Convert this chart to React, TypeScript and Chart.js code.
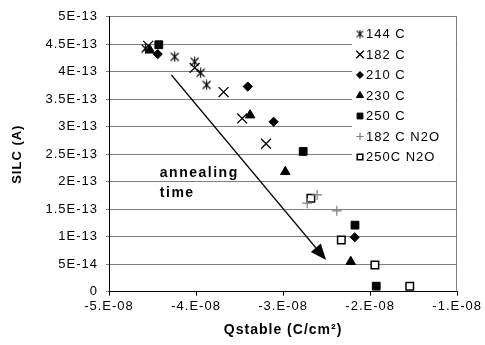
import React, { useEffect, useRef } from 'react';
import { Chart, registerables } from 'chart.js';
import { drawPoint } from 'chart.js/helpers';

Chart.register(...registerables);

// ---------------- data ----------------
const seriesLabels = ['144 C', '182 C', '210 C', '230 C', '250 C', '182 C N2O', '250C N2O'];

const q144 = [-4.58e-8, -4.245e-8, -4.016e-8, -3.947e-8, -3.879e-8];
const silc144 = [4.42e-13, 4.27e-13, 4.18e-13, 3.98e-13, 3.76e-13];

const q182 = [-4.55e-8, -4.016e-8, -3.684e-8, -3.47e-8, -3.196e-8];
const silc182 = [4.47e-13, 4.07e-13, 3.63e-13, 3.15e-13, 2.69e-13];

const q210 = [-4.44e-8, -3.406e-8, -3.109e-8, -2.177e-8];
const silc210 = [4.32e-13, 3.73e-13, 3.09e-13, 0.99e-13];

const q230 = [-4.53e-8, -3.379e-8, -2.975e-8, -2.223e-8];
const silc230 = [4.39e-13, 3.21e-13, 2.18e-13, 0.545e-13];

const q250 = [-4.428e-8, -2.769e-8, -2.174e-8, -1.93e-8];
const silc250 = [4.49e-13, 2.55e-13, 1.21e-13, 0.1e-13];

const q182N2O = [-2.723e-8, -2.609e-8, -2.383e-8];
const silc182N2O = [1.61e-13, 1.76e-13, 1.47e-13];

const q250N2O = [-2.681e-8, -2.331e-8, -1.945e-8, -1.545e-8];
const silc250N2O = [1.7e-13, 0.94e-13, 0.485e-13, 0.1e-13];

const xTickValues = [-5e-8, -4e-8, -3e-8, -2e-8, -1e-8];
const xTickLabels = ['-5.E-08', '-4.E-08', '-3.E-08', '-2.E-08', '-1.E-08'];
const yTickValues = [0, 5e-14, 1e-13, 1.5e-13, 2e-13, 2.5e-13, 3e-13, 3.5e-13, 4e-13, 4.5e-13, 5e-13];
const yTickLabels = ['0', '5E-14', '1E-13', '1.5E-13', '2E-13', '2.5E-13', '3E-13', '3.5E-13', '4E-13', '4.5E-13', '5E-13'];

// annotation (data coordinates)
const arrowStart = [-4.283e-8, 3.94e-13];
const arrowEnd = [-2.506e-8, 0.576e-13];
const noteLines = ['annealing', 'time'];
const noteX = -4.416e-8;
const noteY = [2.085e-13, 1.72e-13];

const FONT = 'Liberation Sans, Arial, sans-serif';

function makeAsterisk(size: number, lw: number) {
  const c = document.createElement('canvas');
  c.width = size;
  c.height = size;
  const g = c.getContext('2d')!;
  g.strokeStyle = '#000';
  g.lineWidth = lw;
  const m = size / 2;
  const r = size / 2 - 0.5;
  const d = r * 0.8;
  g.beginPath();
  g.moveTo(m, m - r);
  g.lineTo(m, m + r);
  g.moveTo(m - d, m - d);
  g.lineTo(m + d, m + d);
  g.moveTo(m + d, m - d);
  g.lineTo(m - d, m + d);
  g.stroke();
  return c;
}

function pts(xs: number[], ys: number[]) {
  return xs.map((x, i) => ({ x, y: ys[i] }));
}

export default function App() {
  const ref = useRef<HTMLCanvasElement>(null);

  useEffect(() => {
    const star = makeAsterisk(11, 1.1);
    const starSmall = makeAsterisk(9, 1.1);

    const spacingPlugin = {
      id: 'spacing',
      beforeUpdate(chart: any) {
        chart.ctx.letterSpacing = '1px';
      },
      beforeDraw(chart: any) {
        chart.ctx.letterSpacing = '1px';
      },
    };

    const extrasPlugin = {
      id: 'extras',
      afterDraw(chart: any) {
        const ctx = chart.ctx as CanvasRenderingContext2D;
        const xs = chart.scales.x;
        const ys = chart.scales.y;
        const ca = chart.chartArea;
        ctx.save();
        // right border of plot area
        ctx.strokeStyle = '#808080';
        ctx.lineWidth = 1;
        ctx.beginPath();
        ctx.moveTo(Math.round(ca.right) - 0.5, ca.top);
        ctx.lineTo(Math.round(ca.right) - 0.5, ca.bottom);
        ctx.stroke();

        // arrow
        const x1 = xs.getPixelForValue(arrowStart[0]);
        const y1 = ys.getPixelForValue(arrowStart[1]);
        const x2 = xs.getPixelForValue(arrowEnd[0]);
        const y2 = ys.getPixelForValue(arrowEnd[1]);
        const ang = Math.atan2(y2 - y1, x2 - x1);
        const hl = 16;
        const hw = 6.5;
        const bx = x2 - Math.cos(ang) * hl;
        const by = y2 - Math.sin(ang) * hl;
        ctx.strokeStyle = '#000';
        ctx.lineWidth = 1.2;
        ctx.beginPath();
        ctx.moveTo(x1, y1);
        ctx.lineTo(bx, by);
        ctx.stroke();
        ctx.fillStyle = '#000';
        ctx.beginPath();
        ctx.moveTo(x2, y2);
        ctx.lineTo(bx + Math.sin(ang) * hw, by - Math.cos(ang) * hw);
        ctx.lineTo(bx - Math.sin(ang) * hw, by + Math.cos(ang) * hw);
        ctx.closePath();
        ctx.fill();

        // annotation text
        (ctx as any).letterSpacing = '1.5px';
        ctx.font = `bold 14px ${FONT}`;
        ctx.textAlign = 'left';
        ctx.textBaseline = 'alphabetic';
        noteLines.forEach((t, i) => {
          ctx.fillText(t, xs.getPixelForValue(noteX), ys.getPixelForValue(noteY[i]));
        });

        // legend
        (ctx as any).letterSpacing = '1px';
        ctx.fillStyle = '#fff';
        ctx.fillRect(352, 23, 104, 144);
        ctx.font = `13px ${FONT}`;
        ctx.textBaseline = 'middle';
        chart.data.datasets.forEach((ds: any, i: number) => {
          const y = 34 + i * 20.5;
          const mx = 360;
          ctx.fillStyle = ds.backgroundColor;
          ctx.strokeStyle = ds.borderColor;
          ctx.lineWidth = ds.borderWidth;
          drawPoint(ctx, {
            pointStyle: i === 0 ? starSmall : ds.pointStyle,
            rotation: 0,
            radius: ds.pointRadius * 0.75,
            borderWidth: ds.borderWidth,
          } as any, mx, y);
          ctx.fillStyle = '#000';
          ctx.fillText(ds.label, 366, y + 0.5);
        });
        ctx.restore();
      },
    };

    const common = { showLine: false };

    const chart = new Chart(ref.current!, {
      type: 'scatter',
      data: {
        datasets: [
          { ...common, label: seriesLabels[0], data: pts(q144, silc144), pointStyle: star as any, pointRadius: 5, backgroundColor: '#000', borderColor: '#000', borderWidth: 1.2 },
          { ...common, label: seriesLabels[1], data: pts(q182, silc182), pointStyle: 'crossRot', pointRadius: 7, backgroundColor: '#000', borderColor: '#000', borderWidth: 1.3 },
          { ...common, label: seriesLabels[2], data: pts(q210, silc210), pointStyle: 'rectRot', pointRadius: 4.6, backgroundColor: '#000', borderColor: '#000', borderWidth: 1 },
          { ...common, label: seriesLabels[3], data: pts(q230, silc230), pointStyle: 'triangle', pointRadius: 5.5, backgroundColor: '#000', borderColor: '#000', borderWidth: 1 },
          { ...common, label: seriesLabels[4], data: pts(q250, silc250), pointStyle: 'rect', pointRadius: 5.5, backgroundColor: '#000', borderColor: '#000', borderWidth: 1 },
          { ...common, label: seriesLabels[5], data: pts(q182N2O, silc182N2O), pointStyle: 'cross', pointRadius: 5, backgroundColor: '#808080', borderColor: '#808080', borderWidth: 1.2 },
          { ...common, label: seriesLabels[6], data: pts(q250N2O, silc250N2O), pointStyle: 'rect', pointRadius: 5.3, backgroundColor: '#fff', borderColor: '#000', borderWidth: 1.5 },
        ],
      },
      options: {
        animation: false,
        responsive: false,
        devicePixelRatio: 1,
        layout: { padding: { top: 16.7, right: 27.5, left: 0, bottom: 0 } },
        plugins: {
          legend: { display: false },
          tooltip: { enabled: false },
        },
        scales: {
          x: {
            type: 'linear',
            min: -5e-8,
            max: -1e-8,
            afterBuildTicks: (s: any) => {
              s.ticks = xTickValues.map((v) => ({ value: v }));
            },
            afterFit: (s: any) => {
              s.height = 53.3;
            },
            grid: { drawOnChartArea: false, drawTicks: true, tickLength: 4, color: '#000' },
            border: { display: true, color: '#000', width: 1 },
            ticks: {
              autoSkip: false,
              maxRotation: 0,
              padding: 3,
              color: '#000',
              font: { family: FONT, size: 13 },
              callback: (_v: any, i: number) => xTickLabels[i],
            },
            title: {
              display: true,
              text: 'Qstable (C/cm²)',
              color: '#000',
              font: { family: FONT, size: 14, weight: 'bold' },
              padding: { top: 0, bottom: 6 },
            },
          },
          y: {
            type: 'linear',
            min: 0,
            max: 5e-13,
            afterBuildTicks: (s: any) => {
              s.ticks = yTickValues.map((v) => ({ value: v }));
            },
            afterFit: (s: any) => {
              s.width = 109;
            },
            grid: { drawOnChartArea: true, drawTicks: true, tickLength: 3, color: '#808080' },
            border: { display: true, color: '#000', width: 1 },
            ticks: {
              autoSkip: false,
              padding: 8,
              color: '#000',
              font: { family: FONT, size: 13 },
              callback: (_v: any, i: number) => yTickLabels[i],
            },
            title: {
              display: true,
              text: 'SILC (A)',
              color: '#000',
              font: { family: FONT, size: 13, weight: 'bold' },
              padding: { top: 10, bottom: 0 },
            },
          },
        },
      } as any,
      plugins: [spacingPlugin, extrasPlugin],
    });
    return () => chart.destroy();
  }, []);

  return (
    <div style={{ position: 'fixed', left: 0, top: 0, width: 485, height: 345, background: '#fff' }}>
      <canvas ref={ref} width={485} height={345} style={{ display: 'block', width: 485, height: 345 }} />
    </div>
  );
}
